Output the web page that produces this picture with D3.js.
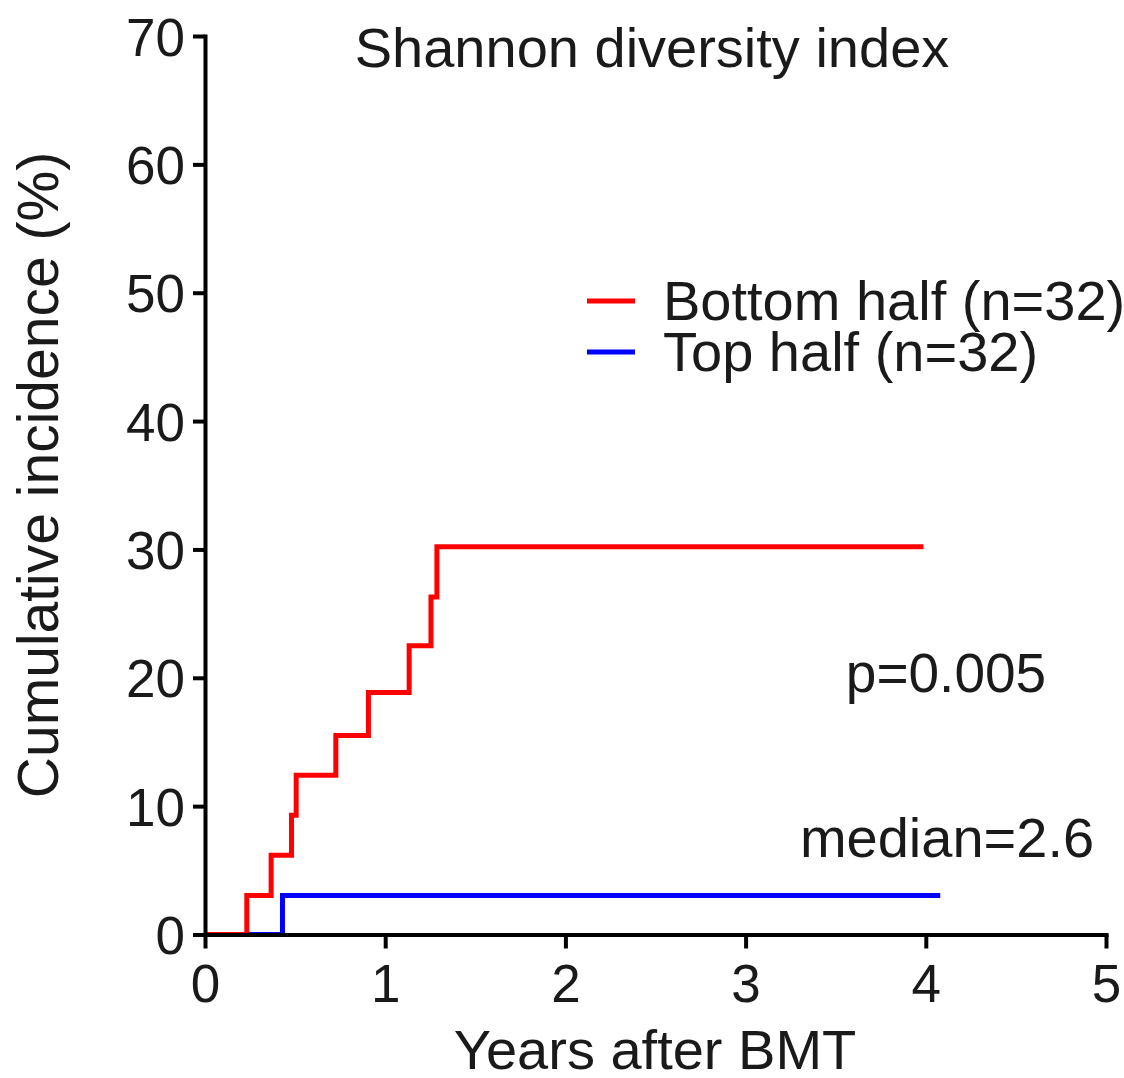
<!DOCTYPE html>
<html>
<head>
<meta charset="utf-8">
<script src="https://cdn.jsdelivr.net/npm/d3@7"></script>
<style>
  body { margin: 0; background: #fff; }
  text { font-family: "Liberation Sans", Arial, sans-serif; fill: #1a1a1a; }
</style>
</head>
<body>
<div id="container"></div>
<script>
/* CONSTANTS AND GLOBALS */
const width = 1124,
  height = 1078,
  margin = { top: 36, bottom: 143.5, left: 205, right: 18 };

/* DATA */
const bottomTimes = [0, 0.232, 0.367, 0.48, 0.506, 0.726, 0.907, 1.133, 1.254, 1.287, 3.987];
const bottomValues = [0, 3.03, 6.17, 9.3, 12.4, 15.5, 18.85, 22.5, 26.3, 30.2, 30.2];
const topTimes = [0, 0.43, 4.08];
const topValues = [0, 3.03, 3.03];
const xTicks = [0, 1, 2, 3, 4, 5];
const yTicks = [0, 10, 20, 30, 40, 50, 60, 70];
const seriesNames = ["Bottom half (n=32)", "Top half (n=32)"];
const seriesColors = ["#ff0000", "#0000ff"];

const bottomData = bottomTimes.map((t, i) => ({ t: t, v: bottomValues[i] }));
const topData = topTimes.map((t, i) => ({ t: t, v: topValues[i] }));

/* SCALES */
const xScale = d3.scaleLinear()
  .domain([0, 5])
  .range([margin.left, width - margin.right]);

const yScale = d3.scaleLinear()
  .domain([0, 70])
  .range([height - margin.bottom, margin.top]);

/* SVG */
const svg = d3.select("#container")
  .append("svg")
  .attr("width", width)
  .attr("height", height);

// step lines (top half first, bottom half drawn over it)
const line = d3.line()
  .x(d => xScale(d.t))
  .y(d => yScale(d.v))
  .curve(d3.curveStepAfter);

svg.append("path")
  .datum(topData)
  .attr("d", line)
  .attr("fill", "none")
  .attr("stroke", seriesColors[1])
  .attr("stroke-width", 5);

svg.append("path")
  .datum(bottomData)
  .attr("d", line)
  .attr("fill", "none")
  .attr("stroke", seriesColors[0])
  .attr("stroke-width", 5);

// axes
const xAxis = d3.axisBottom(xScale)
  .tickValues(xTicks)
  .tickFormat(d3.format("d"))
  .tickSize(14)
  .tickSizeOuter(0)
  .tickPadding(16);

const gx = svg.append("g")
  .attr("transform", `translate(0,${yScale(0)})`)
  .call(xAxis);

const yAxis = d3.axisLeft(yScale)
  .tickValues(yTicks)
  .tickFormat(d3.format("d"))
  .tickSize(12)
  .tickSizeOuter(0)
  .tickPadding(8);

const gy = svg.append("g")
  .attr("transform", `translate(${xScale(0)},0)`)
  .call(yAxis);

[gx, gy].forEach(g => {
  g.select(".domain").attr("stroke", "#000").attr("stroke-width", 4)
    .attr("stroke-linecap", "square");
  g.selectAll(".tick line").attr("stroke", "#000").attr("stroke-width", 4);
  g.selectAll(".tick text")
    .attr("fill", "#1a1a1a")
    .style("font-family", "'Liberation Sans', Arial, sans-serif")
    .style("font-size", "53px");
});
gy.selectAll(".tick text").attr("dy", "0.36em");

// titles
svg.append("text")
  .attr("x", 652)
  .attr("y", 67)
  .attr("text-anchor", "middle")
  .style("font-size", "56px")
  .text("Shannon diversity index");

svg.append("text")
  .attr("x", 655)
  .attr("y", 1069)
  .attr("text-anchor", "middle")
  .style("font-size", "56px")
  .text("Years after BMT");

svg.append("text")
  .attr("transform", "rotate(-90)")
  .attr("x", -475)
  .attr("y", 58)
  .attr("text-anchor", "middle")
  .style("font-size", "57px")
  .text("Cumulative incidence (%)");

/* LEGEND */
const legend = svg.selectAll(".legend")
  .data(seriesNames)
  .join("g")
  .attr("class", "legend")
  .attr("transform", (d, i) => `translate(587,${301 + i * 51})`);

legend.append("line")
  .attr("x1", 0)
  .attr("x2", 48)
  .attr("stroke", (d, i) => seriesColors[i])
  .attr("stroke-width", 5);

legend.append("text")
  .attr("x", 76)
  .attr("y", 19)
  .style("font-size", "56px")
  .text(d => d);

// annotations
svg.append("text")
  .attr("x", 946)
  .attr("y", 692)
  .attr("text-anchor", "middle")
  .style("font-size", "55px")
  .text("p=0.005");

svg.append("text")
  .attr("x", 947)
  .attr("y", 857)
  .attr("text-anchor", "middle")
  .style("font-size", "56px")
  .text("median=2.6");
</script>
</body>
</html>
